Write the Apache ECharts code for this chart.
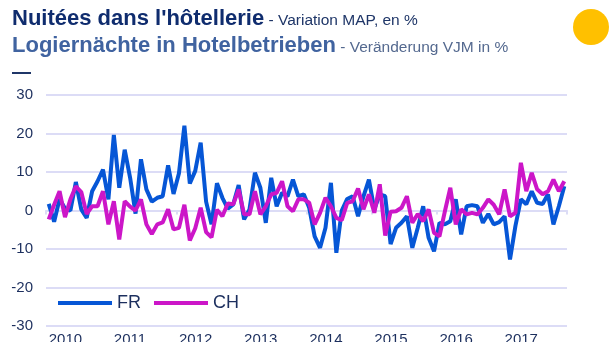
<!DOCTYPE html>
<html>
<head>
<meta charset="utf-8">
<script src="https://cdn.jsdelivr.net/npm/echarts@6/dist/echarts.min.js"></script>
<style>
  html, body { margin: 0; padding: 0; background: #ffffff; }
  #chart { width: 609px; height: 342px; }
</style>
</head>
<body>
<div id="chart"></div>
<script>
// Years shown on the time axis (one tick label per January)
const years = ['2010', '2011', '2012', '2013', '2014', '2015', '2016', '2017'];

// Monthly change vs. same month of previous year, in %
const fr = [
  1.7, -2.9, 3.0, 0.5, 0.0, 7.4, 0.3, -1.9, 5.0, 7.6, 10.6, 2.9,
  19.6, 5.9, 15.8, 8.5, -0.8, 13.3, 5.5, 2.3, 3.3, 3.7, 11.7, 4.3,
  9.7, 22.0, 7.0, 10.3, 17.6, 2.3, -3.6, 7.1, 3.3, 0.5, 1.6, 6.6,
  -2.3, 0.3, 9.8, 5.9, -3.2, 8.5, 1.1, 4.6, 3.7, 8.0, 3.7, 4.2,
  0.7, -6.7, -9.7, -4.5, 7.2, -11.0, 0.0, 3.0, 3.7, -1.5, 3.7, 8.0,
  0.3, 4.2, 3.7, -8.7, -4.5, -3.2, -1.5, -9.7, -4.5, 1.1, -7.1, -10.6,
  -3.2, -3.6, -2.8, 2.9, -6.2, 1.1, 1.4, 1.1, -3.2, -0.9, -3.6, -3.0,
  -1.5, -12.7, -4.0, 2.9, 1.6, 5.0, 2.0, 1.7, 4.2, -3.6, 1.1, 6.3
];
const ch = [
  -2.3, 1.5, 5.0, -1.7, 2.9, 6.3, 4.8, -0.9, 1.1, 1.1, 5.0, -3.6,
  2.4, -7.5, 2.4, 1.0, 0.0, 2.9, -3.6, -6.1, -3.6, -3.1, 0.3, -4.9,
  -4.5, 1.5, -7.8, -4.6, 0.7, -5.6, -7.0, 0.2, -1.5, 1.8, 1.6, 5.5,
  -1.0, -1.0, 5.0, -1.0, 1.1, 4.2, 4.6, 7.6, 1.1, -0.2, 2.9, 2.9,
  2.0, -3.6, -0.6, 3.3, 1.1, -1.9, -2.5, 2.0, 2.4, 5.7, 0.3, 4.2,
  -0.6, 6.8, -6.5, -0.3, -0.2, 0.7, 3.7, -3.2, -0.9, -2.8, 0.3, -5.8,
  -6.7, -0.2, 5.9, -3.6, 0.3, -1.0, -0.6, -1.0, 0.7, 2.9, 1.5, -1.0,
  5.5, -1.5, -0.6, 12.4, 5.0, 9.8, 5.5, 4.2, 5.0, 8.0, 5.0, 7.6
];

const seriesNames = ['FR', 'CH'];
const seriesColors = ['#0656d6', '#cc16c8'];

// One category per month
const months = [];
years.forEach(y => {
  for (let m = 1; m <= 12; m++) months.push(y + '-' + (m < 10 ? '0' + m : m));
});

const gridColor = '#dcdcf6';
const textColor = '#1c2f5e';
const font = '"Liberation Sans", Arial, sans-serif';

const chart = echarts.init(document.getElementById('chart'), null, { renderer: 'canvas' });

chart.setOption({
  animation: false,
  backgroundColor: '#ffffff',
  textStyle: { fontFamily: font },
  title: {
    left: 12,
    top: 5,
    padding: 0,
    text: "{t1|Nuitées dans l'hôtellerie}{s1| - Variation MAP, en %}\n{t2|Logiernächte in Hotelbetrieben}{s2| - Veränderung VJM in %}",
    textStyle: {
      fontWeight: 'normal',
      rich: {
        t1: { fontFamily: font, fontSize: 22, fontWeight: 'bold', color: '#0f2c6e', lineHeight: 27 },
        s1: { fontFamily: font, fontSize: 15.5, fontWeight: 'normal', color: '#1f3668', lineHeight: 21, padding: [4, 0, 0, 0] },
        t2: { fontFamily: font, fontSize: 22, fontWeight: 'bold', color: '#4063a0', lineHeight: 27 },
        s2: { fontFamily: font, fontSize: 15.5, fontWeight: 'normal', color: '#54698f', lineHeight: 21, padding: [4, 0, 0, 0] }
      }
    }
  },
  graphic: [
    { type: 'circle', shape: { cx: 591, cy: 27, r: 18 }, style: { fill: '#ffc000' } },
    { type: 'rect', shape: { x: 12, y: 72, width: 19, height: 2 }, style: { fill: '#1f3668' } }
  ],
  legend: {
    data: seriesNames,
    left: 58,
    top: 294,
    padding: 0,
    icon: 'rect',
    itemWidth: 54,
    itemHeight: 4,
    itemGap: 13,
    textStyle: { fontFamily: font, fontSize: 18, color: textColor }
  },
  grid: { left: 46, right: 42, top: 95, bottom: 16, outerBoundsMode: 'none', containLabel: false },
  xAxis: {
    type: 'category',
    data: months,
    boundaryGap: true,
    axisLine: { show: true, lineStyle: { color: gridColor, width: 2 } },
    axisTick: { show: true, interval: 11, length: 4, lineStyle: { color: gridColor, width: 2 } },
    axisLabel: {
      interval: 11,
      align: 'left',
      margin: 6,
      fontFamily: font,
      fontSize: 15,
      color: textColor,
      formatter: v => (v.slice(5) === '01' ? v.slice(0, 4) : '')
    },
    splitLine: { show: false }
  },
  yAxis: {
    type: 'value',
    min: -30,
    max: 30,
    interval: 10,
    axisLine: { show: false },
    axisTick: { show: false },
    axisLabel: { margin: 13, fontFamily: font, fontSize: 15, color: textColor },
    splitLine: { show: true, lineStyle: { color: gridColor, width: 2 } }
  },
  series: [
    {
      name: seriesNames[0], type: 'line', data: fr, symbol: 'none',
      lineStyle: { color: seriesColors[0], width: 4 }, itemStyle: { color: seriesColors[0] }
    },
    {
      name: seriesNames[1], type: 'line', data: ch, symbol: 'none',
      lineStyle: { color: seriesColors[1], width: 4 }, itemStyle: { color: seriesColors[1] }
    }
  ]
});
</script>
</body>
</html>
